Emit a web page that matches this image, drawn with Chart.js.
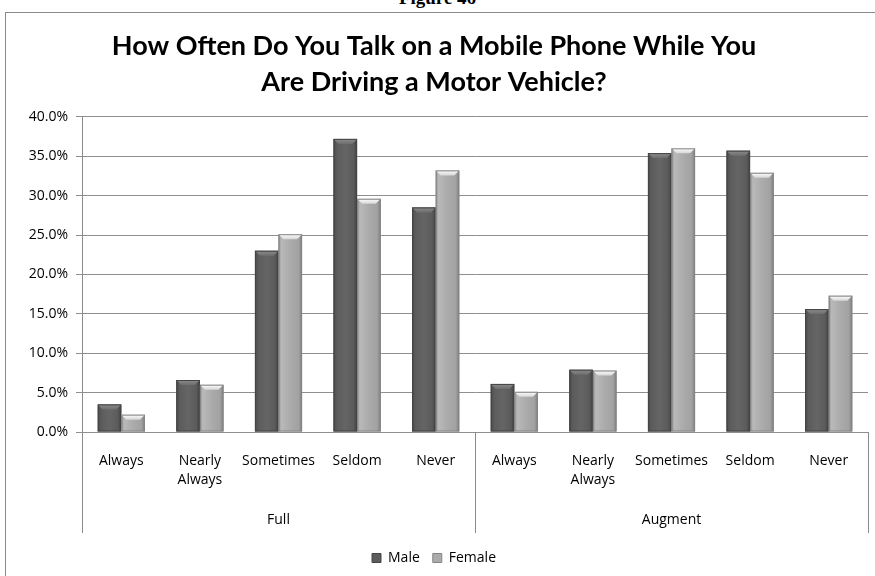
<!DOCTYPE html>
<html>
<head>
<meta charset="utf-8">
<script src="https://cdn.jsdelivr.net/npm/chart.js@4.4.0/dist/chart.umd.min.js"></script>
<style>
  html, body { margin: 0; padding: 0; background: #fff; overflow: hidden; }
  #page { position: relative; width: 875px; height: 576px; }
  #fig { position: absolute; left: 0; right: 0; top: -13px; text-align: center;
         font: bold 19px "Liberation Serif", serif; color: #000; }
  #frame { position: absolute; left: 5px; top: 12px; width: 880px; height: 600px;
           border-left: 1px solid #8a8a8a; border-top: 1px solid #8a8a8a; }
  #wrap { position: absolute; left: 0; top: 0; width: 875px; height: 576px; }
</style>
</head>
<body>
<div id="page">
  <div id="fig">Figure 46</div>
  <div id="frame"></div>
  <div id="wrap"><canvas id="mainChart"></canvas></div>
</div>
<script>
    // Survey answers, split by licence group
    const groups = ['Full', 'Augment'];
    const answers = ['Always', ['Nearly', 'Always'], 'Sometimes', 'Seldom', 'Never'];
    const yTicks = [0, 5, 10, 15, 20, 25, 30, 35, 40];

    const maleFull = [3.5, 6.6, 23.0, 37.2, 28.5];
    const femaleFull = [2.2, 6.0, 25.1, 29.6, 33.2];
    const maleAugment = [6.1, 7.9, 35.4, 35.7, 15.6];
    const femaleAugment = [5.1, 7.8, 36.0, 32.9, 17.3];

    const FONT = '"Open Sans", "Liberation Sans", sans-serif';

    // shaded "bevel" look for the columns, painted over each bar element
    const bevelBars = {
        id: 'bevelBars',
        afterDatasetsDraw(chart) {
            const ctx = chart.ctx;
            chart.data.datasets.forEach((ds, di) => {
                const meta = chart.getDatasetMeta(di);
                if (meta.hidden) return;
                const dark = di === 0;
                meta.data.forEach(bar => {
                    const { x, y, base, width } = bar.getProps(['x', 'y', 'base', 'width'], true);
                    const l = x - width / 2, r = x + width / 2;
                    const h = base - y;
                    if (h <= 0) return;
                    ctx.save();
                    const g = ctx.createLinearGradient(l, 0, r, 0);
                    if (dark) {
                        g.addColorStop(0, '#4a4a4a');
                        g.addColorStop(0.15, '#5c5c5c');
                        g.addColorStop(0.5, '#656565');
                        g.addColorStop(0.85, '#5b5b5b');
                        g.addColorStop(1, '#404040');
                    } else {
                        g.addColorStop(0, '#8f8f8f');
                        g.addColorStop(0.12, '#b9b9b9');
                        g.addColorStop(0.5, '#ababab');
                        g.addColorStop(0.85, '#a2a2a2');
                        g.addColorStop(1, '#7e7e7e');
                    }
                    ctx.fillStyle = g;
                    ctx.fillRect(l, y, width, h);
                    // top bevel
                    const b = Math.min(5, h / 2);
                    const tg = ctx.createLinearGradient(0, y, 0, y + b);
                    tg.addColorStop(0, dark ? '#8c8c8c' : '#ffffff');
                    tg.addColorStop(1, dark ? '#6e6e6e' : '#d6d6d6');
                    ctx.fillStyle = tg;
                    ctx.beginPath();
                    ctx.moveTo(l, y);
                    ctx.lineTo(r, y);
                    ctx.lineTo(r - b, y + b);
                    ctx.lineTo(l + b, y + b);
                    ctx.closePath();
                    ctx.fill();
                    ctx.strokeStyle = dark ? '#444' : '#858585';
                    ctx.lineWidth = 1;
                    ctx.strokeRect(l + 0.5, y + 0.5, width - 1, h - 1);
                    ctx.restore();
                });
            });
        }
    };

    // second row of the category axis: group names and separators
    const groupAxis = {
        id: 'groupAxis',
        afterDraw(chart) {
            const ctx = chart.ctx;
            const xs = chart.scales.x;
            const area = chart.chartArea;
            const n = answers.length;
            const top = area.bottom, bottom = area.bottom + 101;
            const edges = [area.left];
            for (let gi = 1; gi < groups.length; gi++) {
                edges.push((xs.getPixelForValue(gi * n - 1) + xs.getPixelForValue(gi * n)) / 2);
            }
            edges.push(area.right);
            ctx.save();
            ctx.strokeStyle = '#8a8a8a';
            ctx.lineWidth = 1;
            edges.forEach(ex => {
                const px = Math.round(ex) + 0.5;
                ctx.beginPath();
                ctx.moveTo(px, top);
                ctx.lineTo(px, bottom);
                ctx.stroke();
            });
            ctx.fillStyle = '#000';
            ctx.font = '14px ' + FONT;
            ctx.textAlign = 'center';
            ctx.textBaseline = 'middle';
            groups.forEach((gname, gi) => {
                const cx = (xs.getPixelForValue(gi * n) + xs.getPixelForValue(gi * n + n - 1)) / 2;
                ctx.fillText(gname, cx, area.bottom + 88);
            });
            ctx.restore();
        }
    };

    const labels = groups.flatMap(() => answers);

    new Chart(document.getElementById('mainChart'), {
        type: 'bar',
        data: {
            labels: labels,
            datasets: [
                { label: 'Male', data: [...maleFull, ...maleAugment], backgroundColor: '#5c5c5c', borderColor: '#444', borderWidth: 1 },
                { label: 'Female', data: [...femaleFull, ...femaleAugment], backgroundColor: '#ababab', borderColor: '#858585', borderWidth: 1 }
            ]
        },
        options: {
            responsive: true,
            maintainAspectRatio: false,
            animation: false,
            devicePixelRatio: 1,
            layout: { padding: { left: 0, right: 7, top: 0, bottom: 1 } },
            datasets: { bar: { barPercentage: 1, categoryPercentage: 0.6 } },
            plugins: {
                title: {
                    display: true,
                    text: ['How Often Do You Talk on a Mobile Phone While You', 'Are Driving a Motor Vehicle?'],
                    color: '#000',
                    font: { family: 'Lato, "Open Sans", sans-serif', size: 27, weight: 'bold', lineHeight: 1.33 },
                    padding: { top: 28, bottom: 17 }
                },
                legend: {
                    position: 'bottom',
                    labels: { boxWidth: 9, boxHeight: 9, padding: 13, color: '#000', font: { family: FONT, size: 14 } }
                },
                tooltip: { enabled: false }
            },
            scales: {
                x: {
                    grid: { display: false },
                    border: { display: false },
                    ticks: { color: '#000', font: { family: FONT, size: 14, lineHeight: 1.35 }, padding: 12, maxRotation: 0, autoSkip: false },
                    afterFit: s => { s.height = 106; }
                },
                y: {
                    min: 0,
                    max: 40,
                    afterBuildTicks: s => { s.ticks = yTicks.map(v => ({ value: v })); },
                    grid: { color: '#8f8f8f', tickLength: 6 },
                    border: { display: true, color: '#8a8a8a' },
                    ticks: { color: '#000', font: { family: FONT, size: 14 }, padding: 8, callback: v => v.toFixed(1) + '%' },
                    afterFit: s => { s.width = 82; }
                }
            }
        },
        plugins: [bevelBars, groupAxis]
    });
</script>
</body>
</html>
